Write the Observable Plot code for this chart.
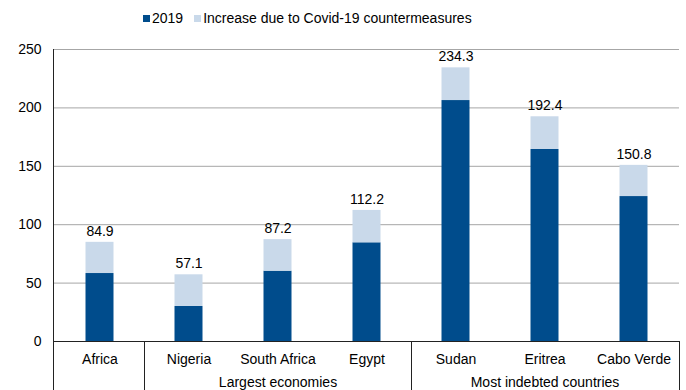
<!DOCTYPE html>
<html>
<head>
<meta charset="utf-8">
<script src="https://cdn.jsdelivr.net/npm/d3@7"></script>
<script src="https://cdn.jsdelivr.net/npm/@observablehq/plot@0.6"></script>
<style>
  html, body { margin: 0; padding: 0; background: #fff; }
  body { width: 686px; height: 390px; overflow: hidden; font-family: "Liberation Sans", Arial, sans-serif; }
  #legend { height: 36px; display: flex; align-items: center; padding-left: 143px; font-size: 14px; color: #000; box-sizing: border-box; }
  .item { display: flex; align-items: center; margin-right: 11px; }
  .sw { width: 7px; height: 7px; margin-right: 2px; }
  svg { display: block; font-family: "Liberation Sans", Arial, sans-serif; }
</style>
</head>
<body>
<div id="legend"></div>
<div id="chart"></div>
<script>
const categories = ["Africa", "Nigeria", "South Africa", "Egypt", "Sudan", "Eritrea", "Cabo Verde"];
const debt2019 = [58.2, 30.0, 60.2, 84.5, 206.3, 164.4, 124.1];
const totalWithCovid = [84.9, 57.1, 87.2, 112.2, 234.3, 192.4, 150.8];
const groupLabels = ["Largest economies", "Most indebted countries"];
const groupMembers = [["Nigeria", "South Africa", "Egypt"], ["Sudan", "Eritrea", "Cabo Verde"]];
const yTicks = [0, 50, 100, 150, 200, 250];
const seriesNames = ["2019", "Increase due to Covid-19 countermeasures"];
const seriesColors = ["#004C8C", "#C9D9EA"];

const rows = categories.map((c, i) => ({cat: c, base: debt2019[i], total: totalWithCovid[i]}));
const groups = groupLabels.map((g, i) => ({label: g, first: groupMembers[i][0], mid: groupMembers[i][1]}));

// legend
const legend = document.getElementById("legend");
seriesNames.forEach((n, i) => {
  const it = document.createElement("div");
  it.className = "item";
  const sw = document.createElement("span");
  sw.className = "sw";
  sw.style.background = seriesColors[i];
  const t = document.createElement("span");
  t.textContent = n;
  it.appendChild(sw); it.appendChild(t);
  legend.appendChild(it);
});

const structure = (index, scales, values, dim) => {
  const {x, y} = scales;
  const g = d3.create("svg:g").attr("stroke", "#222").attr("stroke-width", 1).attr("shape-rendering", "crispEdges");
  const left = dim.marginLeft, right = dim.width - dim.marginRight;
  g.append("line").attr("x1", left).attr("x2", left).attr("y1", y(250)).attr("y2", dim.height);
  g.append("line").attr("x1", left).attr("x2", right).attr("y1", y(0)).attr("y2", y(0));
  const xs = groups.map(gr => x(gr.first)).concat([right]);
  xs.forEach(px => g.append("line").attr("x1", px).attr("x2", px).attr("y1", y(0)).attr("y2", dim.height));
  return g.node();
};

const plot = Plot.plot({
  width: 686,
  height: 354,
  marginTop: 13,
  marginBottom: 49,
  marginLeft: 53,
  marginRight: 7,
  style: {fontSize: "14px", fontFamily: "Liberation Sans, Arial, sans-serif", color: "#000", background: "#fff"},
  x: {domain: categories, padding: 0, axis: null},
  y: {domain: [0, 250], ticks: yTicks, tickSize: 0, tickPadding: 12, label: null},
  marks: [
    Plot.ruleY(yTicks.slice(1), {stroke: "#a6a6a6", strokeWidth: 1}),
    Plot.barY(rows, {x: "cat", y1: 0, y2: "base", fill: seriesColors[0], insetLeft: 30.5, insetRight: 30.5}),
    Plot.barY(rows, {x: "cat", y1: "base", y2: "total", fill: seriesColors[1], insetLeft: 30.5, insetRight: 30.5}),
    Plot.text(rows, {x: "cat", y: "total", text: d => d.total.toFixed(1), dy: -11, fill: "#000", fontSize: 14}),
    Plot.text(rows, {x: "cat", y: 0, text: "cat", dy: 18, fill: "#000", fontSize: 14}),
    Plot.text(groups, {x: "mid", y: 0, text: "label", dy: 41, fill: "#000", fontSize: 14}),
    structure
  ]
});
document.getElementById("chart").appendChild(plot);
</script>
</body>
</html>
